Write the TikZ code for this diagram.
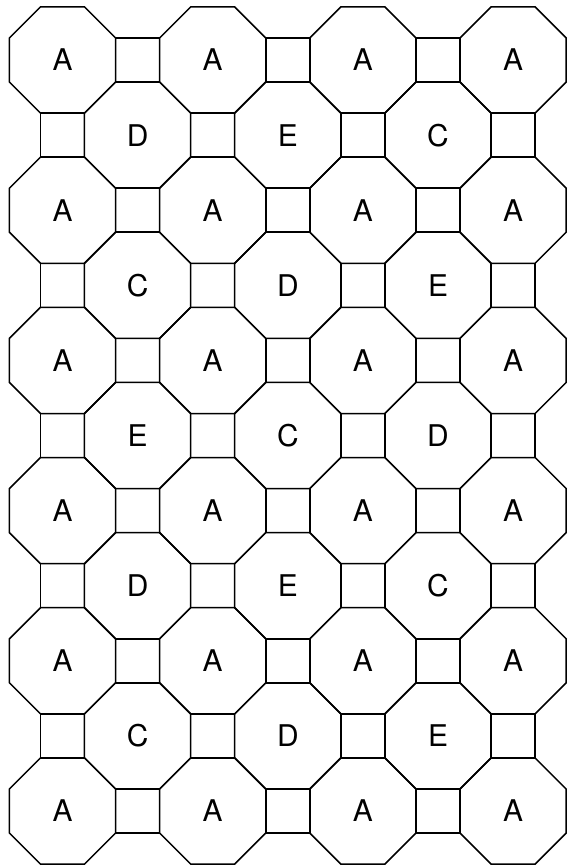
\documentclass[tikz,border=0pt]{standalone}
\usepackage{fontspec}
\setmainfont{TeX Gyre Heros}
\usetikzlibrary{shapes.geometric}
\tikzset{
  octagon/.style={draw, regular polygon, regular polygon sides=8, minimum size=114.96bp, inner sep=0pt, outer sep=0pt},
  squarecell/.style={draw, rectangle, minimum size=43.99bp, inner sep=0pt, outer sep=0pt}
}
\begin{document}
\begin{tikzpicture}[x=150.2bp, y=150.2bp, line width=1.5bp, font=\fontsize{30}{36}\selectfont]
			% Khung hình
			\useasboundingbox (-0.4161,-5.3662) rectangle (3.3589,0.3995);
			
			% Các hình vuông nằm ngang giữa hai bát giác A
			\foreach \i in {0,...,2} \foreach \j in {0,...,5}
				\node[squarecell] (h\i\j) at (\i+0.5,-\j) {};
			
			% Các hình vuông nằm dọc
			\foreach \i in {0,...,3} \foreach \j in {0,...,4}
				\node[squarecell] (v\i\j) at (\i,-\j-0.5) {};
			
			% Các bát giác A
			\foreach \i in {0,...,3} \foreach \j in {0,...,5}
				\node[octagon] (A\i\j) at (\i,-\j) {A};
			
			% Các bát giác C, D, E
			\foreach \j/\la/\lb/\lc in {0/D/E/C, 1/C/D/E, 2/E/C/D, 3/D/E/C, 4/C/D/E} {
				\node[octagon] (m0\j) at (0.5,-\j-0.5) {\la};
				\node[octagon] (m1\j) at (1.5,-\j-0.5) {\lb};
				\node[octagon] (m2\j) at (2.5,-\j-0.5) {\lc};
			}
		\end{tikzpicture}
\end{document}
